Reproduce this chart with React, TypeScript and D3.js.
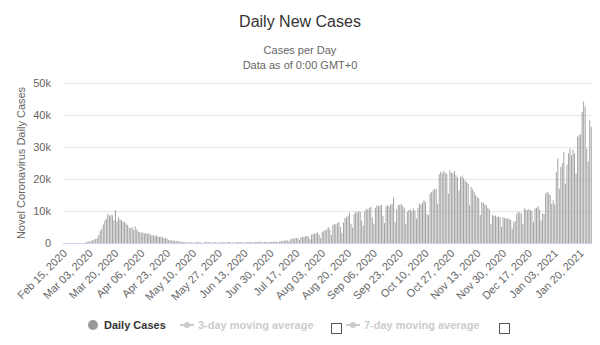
import React from "react";
import * as d3 from "d3";

const startDate = "2020-02-15";

const dailyCases: number[] = [
  // Feb 15 - Feb 29
  0, 0, 0, 0, 0, 0, 0, 0, 0, 0, 0, 1, 2, 6, 13,
  // Mar 1 - May 1 (first wave)
  300, 400, 500, 700, 900, 1100, 1300, 1500, 2500, 3800,
  4500, 5800, 7000, 7600, 9200, 8500, 8800, 8700, 7200, 10300,
  6800, 8000, 7400, 7100, 6700, 6500, 6100, 5600, 4800, 4600,
  4900, 4100, 5200, 4300, 3600, 3400, 3200, 3300, 3000, 3100,
  2900, 3000, 2600, 2300, 2500, 2200, 2400, 2000, 1900, 2000,
  1800, 1500, 1600, 1400, 900, 1000, 700, 800, 700, 600,
  700, 500,
  // May 2 - Jun 26 (summer lull)
  400, 300, 350, 250, 200, 150, 300, 200, 150, 100,
  250, 300, 200, 150, 100, 0, 350, 300, 200, 250,
  150, 100, 300, 250, 200, 0, 300, 150, 250, 200,
  100, 350, 300, 150, 200, 100, 150, 300, 250, 300,
  200, 100, 150, 250, 300, 350, 300, 200, 150, 300,
  350, 300, 400, 350, 200, 300,
  // weekly blocks, Saturday to Friday, from Jun 27
  350, 200, 300, 400, 350, 450, 400,
  450, 250, 500, 700, 650, 800, 750,
  900, 500, 1100, 1400, 1300, 1500, 1600,
  1500, 900, 1700, 2000, 1900, 2100, 2200,
  2000, 1200, 2600, 2800, 2900, 3000, 3300,
  2600, 1600, 3500, 3800, 4000, 4300, 5000,
  4200, 2500, 5500, 6000, 5800, 6200, 6500,
  5000, 3200, 6500, 7800, 8100, 8500, 9500,
  6000, 4800, 9000, 9700, 9500, 10000, 9800,
  7000, 5500, 10000, 10700, 10500, 11000, 11300,
  8000, 6000, 11000, 11800, 11500, 11700, 11900,
  8500, 6200, 11500, 11800, 11400, 12000, 12200,
  14200, 6500, 10500, 12000, 11800, 12200, 11600,
  10800, 6000, 9800, 10300, 10500, 10000, 10800,
  10200, 7600, 11000, 12300, 12000, 12600, 13400,
  12800, 9000, 8700, 15500, 16000, 16500, 17000,
  16800, 12300, 21500, 22300, 21800, 22500, 22000,
  21500, 15400, 22700, 22000, 21700, 22500, 21200,
  20500, 16500, 20600, 21000, 20200, 19500, 19000,
  18500, 11800, 17500, 16800, 16000, 15000, 14400,
  14000, 8700, 12800, 12500, 12000, 11800, 11000,
  10500, 6000, 8700, 8500, 8600, 8100, 8300,
  8000, 5000, 8100, 7800, 7600, 7700, 7500,
  7200, 4500, 6600, 6800, 9200, 9700, 9500,
  9300, 6000, 10800, 10500, 10200, 10600, 10300,
  10000, 6600, 10800, 11000, 11500, 10500, 7000,
  9200, 9000, 15400, 16000, 15500, 15000, 12300,
  13400, 12000, 22200, 26400, 17000, 23800, 25000,
  28500, 18600, 24500, 28000, 29500, 27400, 29200,
  28000, 21700, 33200, 33700, 34000, 41000, 44200,
  42600, 29500, 25400, 38400, 36300,
];

const yTicks = [0, 10000, 20000, 30000, 40000, 50000];
const yTickLabels = ["0", "10k", "20k", "30k", "40k", "50k"];
const xTickLabels = [
  "Feb 15, 2020", "Mar 03, 2020", "Mar 20, 2020", "Apr 06, 2020", "Apr 23, 2020",
  "May 10, 2020", "May 27, 2020", "Jun 13, 2020", "Jun 30, 2020", "Jul 17, 2020",
  "Aug 03, 2020", "Aug 20, 2020", "Sep 06, 2020", "Sep 23, 2020", "Oct 10, 2020",
  "Oct 27, 2020", "Nov 13, 2020", "Nov 30, 2020", "Dec 17, 2020", "Jan 03, 2021",
  "Jan 20, 2021",
];
const tickStep = 17;

const FONT = "'Liberation Sans', Arial, Helvetica, sans-serif";

export default function App() {
  const W = 600, H = 345;
  const left = 63, right = 592, top = 83, bottom = 243;
  const fmt = d3.timeFormat("%b %d, %Y");
  const start = d3.timeParse("%Y-%m-%d")(startDate) as Date;
  const dates = dailyCases.map((_, i) => fmt(d3.timeDay.offset(start, i)));

  const x = d3.scaleBand<string>().domain(dates).range([left, right]).paddingInner(0.3).paddingOuter(0.15);
  const y = d3.scaleLinear().domain([0, 50000]).range([bottom, top]);
  const bw = 1;

  return (
    <svg width={W} height={H} style={{ position: "absolute", left: 0, top: 0, background: "#fff" }} fontFamily={FONT}>
      <rect x={0} y={0} width={W} height={H} fill="#fff" />
      <text x={300} y={27} textAnchor="middle" fontSize={16} fill="#333">Daily New Cases</text>
      <text x={300} y={54} textAnchor="middle" fontSize={11} fill="#666">Cases per Day</text>
      <text x={300} y={69} textAnchor="middle" fontSize={11} fill="#666">Data as of 0:00 GMT+0</text>

      {yTicks.map((t, i) => (
        <g key={t}>
          {t > 0 && <line x1={left} x2={right} y1={Math.round(y(t)) + 0.5} y2={Math.round(y(t)) + 0.5} stroke="#e6e6e6" />}
          <text x={51} y={y(t) + 4} textAnchor="end" fontSize={11} fill="#666">{yTickLabels[i]}</text>
        </g>
      ))}
      <text transform={`translate(25,${(top + bottom) / 2}) rotate(-90)`} textAnchor="middle" fontSize={11} fill="#666">
        Novel Coronavirus Daily Cases
      </text>

      {dailyCases.map((v, i) => {
        const cx = (x(dates[i]) as number) + x.bandwidth() / 2;
        return <rect key={i} x={cx - bw / 2} y={y(v)} width={bw} height={bottom - y(v)} fill="#a3a3a3" />;
      })}

      <line x1={left} x2={right} y1={bottom + 0.5} y2={bottom + 0.5} stroke="#ccd6eb" />

      {xTickLabels.map((lab, j) => {
        const d = dates[j * tickStep];
        const cx = (x(d) as number) + x.bandwidth() / 2;
        return (
          <text key={lab} transform={`translate(${cx + 4},${bottom + 11}) rotate(-45)`} textAnchor="end" fontSize={11} fill="#666">
            {lab}
          </text>
        );
      })}

      <g>
        <circle cx={93} cy={325} r={5} fill="#999" />
        <text x={104} y={329} fontSize={11} fontWeight="bold" fill="#333">Daily Cases</text>

        <line x1={180} x2={194} y1={325} y2={325} stroke="#ccc" strokeWidth={2} />
        <circle cx={187} cy={325} r={3} fill="#ccc" />
        <text x={198} y={329} fontSize={11} fontWeight="bold" fill="#ccc">3-day moving average</text>
        <rect x={331.5} y={323.5} width={10} height={10} fill="#fff" stroke="#555" />

        <line x1={346} x2={360} y1={325} y2={325} stroke="#ccc" strokeWidth={2} />
        <circle cx={353} cy={325} r={3} fill="#ccc" />
        <text x={364} y={329} fontSize={11} fontWeight="bold" fill="#ccc">7-day moving average</text>
        <rect x={499.5} y={323.5} width={10} height={10} fill="#fff" stroke="#555" />
      </g>
    </svg>
  );
}
